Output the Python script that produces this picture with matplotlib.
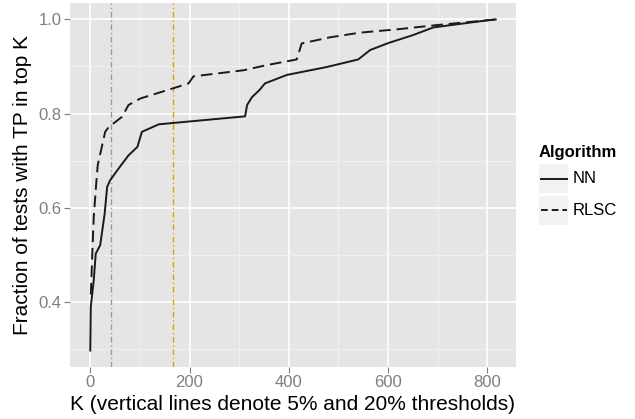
import matplotlib
matplotlib.use("Agg")
import matplotlib.pyplot as plt
from matplotlib.patches import Rectangle
from matplotlib.lines import Line2D

plt.rcParams['font.family'] = ['Liberation Sans', 'DejaVu Sans']

# Data
nn_k = [0, 1, 7, 11, 20, 29, 34, 40, 57, 77, 95, 104, 138, 168, 312, 316, 326, 341, 352, 396, 477, 540, 564, 601, 651, 691, 799, 817]
nn_y = [0.296, 0.389, 0.445, 0.502, 0.52, 0.587, 0.644, 0.658, 0.683, 0.711, 0.729, 0.761, 0.777, 0.780, 0.794, 0.818, 0.835, 0.85, 0.864, 0.882, 0.899, 0.915, 0.935, 0.950, 0.967, 0.983, 0.998, 1.0]

rlsc_k = [1, 4, 7, 12, 15, 30, 37, 64, 77, 101, 168, 198, 208, 309, 356, 416, 426, 483, 544, 618, 698, 817]
rlsc_y = [0.415, 0.50, 0.58, 0.651, 0.69, 0.761, 0.771, 0.793, 0.818, 0.832, 0.854, 0.864, 0.879, 0.892, 0.903, 0.915, 0.949, 0.962, 0.972, 0.979, 0.988, 1.0]

thresholds = [41, 166]
threshold_colors = ['#999999', '#E69F00']

x_ticks = [0, 200, 400, 600, 800]
y_ticks = [0.4, 0.6, 0.8, 1.0]

fig = plt.figure(figsize=(6.35, 4.19), dpi=100)
W, H = 635, 419
L, R, T, B = 70, 516, 3, 367
ax = fig.add_axes([L / W, 1 - B / H, (R - L) / W, (B - T) / H])
ax.set_facecolor('#E5E5E5')
for s in ax.spines.values():
    s.set_visible(False)

ax.set_xlim(-40.85, 857.85)
ax.set_ylim(0.261, 1.035)
ax.set_xticks(x_ticks)
ax.set_yticks(y_ticks)
ax.set_yticklabels([f"{v:.1f}" for v in y_ticks])
ax.set_xticks([100, 300, 500, 700], minor=True)
ax.set_yticks([0.3, 0.5, 0.7, 0.9], minor=True)
ax.grid(which='major', color='white', lw=1.2)
ax.grid(which='minor', color='#F2F2F2', lw=0.6)
ax.set_axisbelow(True)
ax.tick_params(which='major', colors='#7F7F7F', labelcolor='#7F7F7F', length=4, width=0.8,
               labelsize=12, pad=2)
ax.tick_params(which='minor', length=0)

for k, c in zip(thresholds, threshold_colors):
    ax.axvline(k, color=c, lw=1.0, linestyle=(0, (4, 2, 1, 2)))

ax.plot(nn_k, nn_y, color='#1a1a1a', lw=1.4, solid_joinstyle='round')
ax.plot(rlsc_k, rlsc_y, color='#1a1a1a', lw=1.4, linestyle=(0, (6, 3)))

ax.set_xlabel("K (vertical lines denote 5% and 20% thresholds)", fontsize=15, labelpad=3)
ax.set_ylabel("Fraction of tests with TP in top K", fontsize=15, labelpad=5)

# Legend (ggplot style)
fig.text(539 / W, 1 - 152 / H, "Algorithm", fontsize=12, fontweight='bold', va='center', ha='left')
for (y0, y1), name, ls in [((164.3, 193.3), "NN", '-'), ((195.7, 225), "RLSC", (0, (3.5, 2)))]:
    fig.patches.append(Rectangle((539 / W, 1 - y1 / H), 29 / W, (y1 - y0) / H,
                                 transform=fig.transFigure, facecolor='#F2F2F2', edgecolor='none'))
    yc = 1 - (y0 + y1) / 2 / H
    fig.lines.append(Line2D([541 / W, 566.5 / W], [yc, yc], transform=fig.transFigure,
                            color='#1a1a1a', lw=1.4, linestyle=ls))
    fig.text(573 / W, yc, name, fontsize=12, va='center', ha='left')

fig.savefig("out.png", dpi=100)
